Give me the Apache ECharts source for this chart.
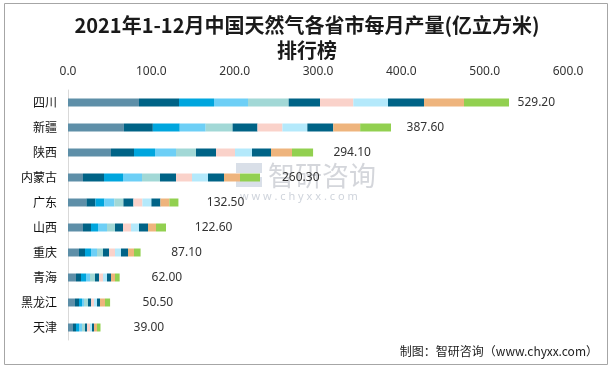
<!DOCTYPE html>
<html>
<head>
<meta charset="utf-8">
<script src="https://cdn.jsdelivr.net/npm/echarts@6/dist/echarts.min.js"></script>
<style>
html,body{margin:0;padding:0;background:#fff;}
#main{width:614px;height:369px;}
</style>
</head>
<body>
<div id="main"></div>
<script>
const provinces = ['四川','新疆','陕西','内蒙古','广东','山西','重庆','青海','黑龙江','天津'];
const totals = [529.2, 387.6, 294.1, 260.3, 132.5, 122.6, 87.1, 62.0, 50.5, 39.0];
const monthNames = ['1-2月','3月','4月','5月','6月','7月','8月','9月','10月','11月','12月'];
const m1_2 = [85.2, 67.1, 51.6, 18.0, 22.1, 18.0, 13.2, 9.6, 8.4, 6.0];
const m3  = [48.0, 34.7, 27.6, 25.2, 10.8, 9.6, 7.2, 6.0, 4.8, 3.6];
const m4  = [42.0, 32.3, 25.2, 22.8, 10.8, 8.4, 7.2, 6.0, 3.6, 3.6];
const m5  = [40.8, 31.1, 25.2, 22.8, 12.0, 10.8, 7.2, 4.8, 2.4, 3.6];
const m6  = [48.8, 32.3, 24.0, 21.6, 10.8, 9.6, 7.2, 6.0, 4.8, 3.6];
const m7  = [37.6, 29.9, 24.0, 19.2, 12.0, 9.6, 7.2, 4.8, 3.6, 2.4];
const m8  = [40.0, 29.9, 22.8, 19.2, 10.8, 9.6, 7.2, 4.8, 3.6, 3.6];
const m9  = [41.6, 29.9, 20.4, 19.2, 10.8, 9.6, 7.2, 4.8, 3.6, 2.4];
const m10 = [43.2, 31.1, 22.8, 19.2, 10.8, 10.8, 8.4, 4.8, 3.6, 2.4];
const m11 = [48.0, 32.3, 25.2, 19.2, 10.8, 9.6, 7.2, 4.8, 6.0, 3.6];
const m12 = [54.0, 37.0, 25.3, 24.0, 10.8, 12.0, 7.9, 5.6, 6.1, 4.2];
const xTicks = [0, 100, 200, 300, 400, 500, 600];

const monthData = [m1_2, m3, m4, m5, m6, m7, m8, m9, m10, m11, m12];
const colors = ['#5E8FA8','#006386','#00A6DE','#6DCFF6','#A2D8D6','#006386','#FAD2CA','#B4E9FB','#006386','#EEB47D','#92D050'];

const series = monthData.map((arr, si) => {
  const last = si === monthData.length - 1;
  return {
    name: monthNames[si],
    type: 'bar',
    stack: 'total',
    barWidth: 8,
    itemStyle: { color: colors[si] },
    data: arr.map((v, i) => last ? {
      value: v,
      label: { distance: 35 - 0.05 * totals[i] }
    } : v),
    label: last ? {
      show: true,
      position: 'right',
      color: '#333',
      fontSize: 12,
      fontFamily: 'Noto Sans, sans-serif',
      formatter: p => totals[p.dataIndex].toFixed(2)
    } : { show: false },
    emphasis: { disabled: true },
    animation: false
  };
});

const chart = echarts.init(document.getElementById('main'), null, { renderer: 'canvas' });
chart.setOption({
  animation: false,
  backgroundColor: '#fff',
  title: {
    text: '2021年1-12月中国天然气各省市每月产量(亿立方米)\n排行榜',
    left: 'center',
    top: 8,
    textStyle: {
      fontSize: 20,
      fontWeight: 'bold',
      color: '#1a1a1a',
      lineHeight: 25,
      fontFamily: '"Noto Sans CJK SC", sans-serif'
    }
  },
  grid: { left: 68, right: 46, top: 90, bottom: 29, containLabel: false },
  xAxis: {
    type: 'value',
    position: 'top',
    min: xTicks[0],
    max: xTicks[xTicks.length - 1],
    interval: xTicks[1] - xTicks[0],
    axisLine: { show: false },
    axisTick: { show: false },
    splitLine: { show: false },
    axisLabel: {
      margin: 12,
      color: '#333',
      fontSize: 12,
      fontFamily: 'Noto Sans, sans-serif',
      formatter: v => v.toFixed(1)
    }
  },
  yAxis: {
    type: 'category',
    data: provinces,
    inverse: true,
    axisLine: { show: true, lineStyle: { color: '#d9d9d9', width: 1 } },
    axisTick: { show: false },
    axisLabel: {
      margin: 11,
      color: '#111',
      fontSize: 12,
      fontFamily: '"Noto Sans CJK SC", sans-serif'
    }
  },
  graphic: [
    {
      type: 'rect', z: -10, silent: true,
      shape: { x: 4.5, y: 3.5, width: 603, height: 361 },
      style: { fill: 'none', stroke: '#a6a6a6', lineWidth: 1 }
    },
    {
      type: 'text', right: 16, top: 345, silent: true,
      style: { text: '制图：智研咨询（www.chyxx.com）', fill: '#222', fontSize: 12, fontFamily: '"Noto Sans CJK SC", sans-serif' }
    },
    {
      type: 'rect', z: -5, silent: true,
      shape: { x: 236, y: 163, width: 26, height: 10 },
      style: { fill: 'rgba(170,185,205,0.45)' }
    },
    {
      type: 'rect', z: -5, silent: true,
      shape: { x: 236, y: 177, width: 26, height: 10 },
      style: { fill: 'rgba(170,185,205,0.45)' }
    },
    {
      type: 'text', z: -5, silent: true, left: 268, top: 162,
      style: { text: '智研咨询', fill: 'rgba(160,165,175,0.45)', fontSize: 27, fontFamily: '"Noto Sans CJK SC", sans-serif' }
    },
    {
      type: 'text', z: -5, silent: true, left: 240, top: 191,
      style: { text: 'w w w . c h y x x . c o m', fill: 'rgba(160,170,185,0.5)', fontSize: 11, fontFamily: 'Noto Sans, sans-serif' }
    }
  ],
  series: series
});
</script>
</body>
</html>
